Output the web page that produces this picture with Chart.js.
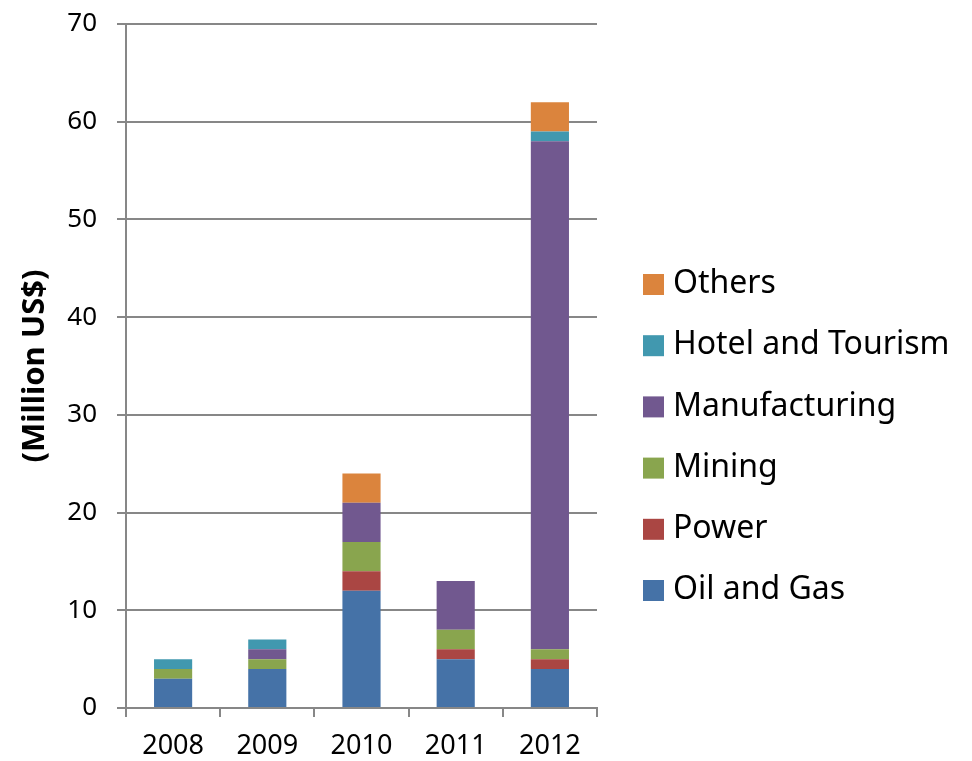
<!DOCTYPE html>
<html lang="en">
<head>
    <meta charset="UTF-8">
    <title>Investment by sector</title>
    <script src="https://cdn.jsdelivr.net/npm/chart.js"></script>
    <style>
        html, body { margin: 0; padding: 0; background: #fff; }
        #wrap { width: 972px; height: 761px; }
    </style>
</head>
<body>
    <div id="wrap"><canvas id="sectorChart" width="972" height="761"></canvas></div>

    <script>
        // Data (Million US$)
        const years = ['2008', '2009', '2010', '2011', '2012'];
        const oilGas = [3, 4, 12, 5, 4];
        const power = [0, 0, 2, 1, 1];
        const mining = [1, 1, 3, 2, 1];
        const manufacturing = [0, 1, 4, 5, 52];
        const hotelTourism = [1, 1, 0, 0, 1];
        const others = [0, 0, 3, 0, 3];
        const yTicks = [0, 10, 20, 30, 40, 50, 60, 70];

        const FONT = '"Noto Sans", "Liberation Sans", sans-serif';
        const GRID = '#878787';

        // Legend drawn on the right, top to bottom in reverse order of stacking
        const sideLegend = {
            id: 'sideLegend',
            afterDraw(chart) {
                const ctx = chart.ctx;
                const sets = chart.data.datasets.slice().reverse();
                ctx.save();
                ctx.font = '32px ' + FONT;
                ctx.textBaseline = 'middle';
                sets.forEach(function(ds, i) {
                    const y = 284 + i * 61.2;
                    ctx.fillStyle = ds.backgroundColor;
                    ctx.fillRect(643, y - 10, 21, 21);
                    ctx.fillStyle = '#000';
                    ctx.fillText(ds.label, 673, y);
                });
                ctx.restore();
            }
        };

        const ctx = document.getElementById('sectorChart').getContext('2d');
        new Chart(ctx, {
            type: 'bar',
            data: {
                labels: years,
                datasets: [
                    { label: 'Oil and Gas', data: oilGas, backgroundColor: '#4572A7' },
                    { label: 'Power', data: power, backgroundColor: '#AA4643' },
                    { label: 'Mining', data: mining, backgroundColor: '#89A54E' },
                    { label: 'Manufacturing', data: manufacturing, backgroundColor: '#71588F' },
                    { label: 'Hotel and Tourism', data: hotelTourism, backgroundColor: '#4198AF' },
                    { label: 'Others', data: others, backgroundColor: '#DB843D' }
                ]
            },
            options: {
                responsive: false,
                animation: false,
                layout: { padding: { left: 0, right: 375, top: 24, bottom: 0 } },
                datasets: { bar: { categoryPercentage: 1, barPercentage: 0.405, borderWidth: 0 } },
                plugins: {
                    legend: { display: false },
                    tooltip: { enabled: false }
                },
                scales: {
                    x: {
                        stacked: true,
                        afterFit(scale) { scale.height = 53; scale.paddingLeft = 0; scale.paddingRight = 0; },
                        grid: { offset: true, drawOnChartArea: false, drawTicks: true, tickLength: 9, color: GRID, lineWidth: 2 },
                        border: { color: GRID, width: 2 },
                        ticks: { color: '#000', font: { family: FONT, size: 27 }, padding: 13, maxRotation: 0 }
                    },
                    y: {
                        stacked: true,
                        min: 0,
                        max: 70,
                        afterFit(scale) { scale.width = 126; scale.paddingTop = 0; scale.paddingBottom = 0; },
                        afterBuildTicks(scale) { scale.ticks = yTicks.map(v => ({ value: v })); },
                        grid: { color: GRID, lineWidth: 2, drawTicks: true, tickLength: 9 },
                        border: { color: GRID, width: 2 },
                        ticks: { color: '#000', font: { family: FONT, size: 26 }, padding: 20 },
                        title: {
                            display: true,
                            text: '(Million US$)',
                            color: '#000',
                            font: { family: FONT, size: 31, weight: 'bold' },
                            padding: { top: 17, bottom: 0 }
                        }
                    }
                }
            },
            plugins: [sideLegend]
        });
    </script>
</body>
</html>
